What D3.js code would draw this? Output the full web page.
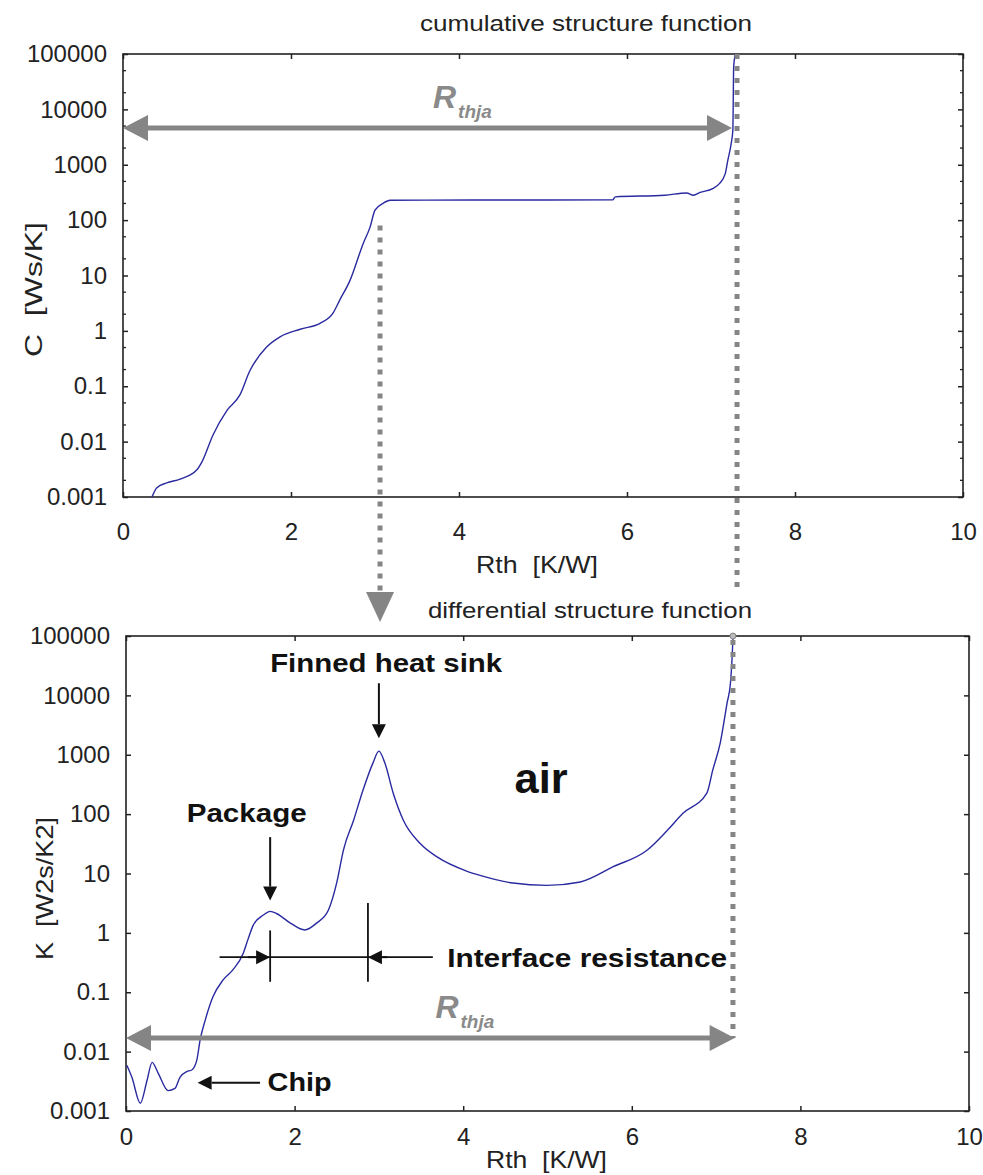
<!DOCTYPE html>
<html>
<head>
<meta charset="utf-8">
<script src="https://cdn.jsdelivr.net/npm/d3@7"></script>
<style>
body { margin: 0; background: #fff; }
text { font-family: "Liberation Sans", Arial, sans-serif; fill: #222; }
</style>
</head>
<body>
<svg id="chart" width="983" height="1175"></svg>
<script>
// ticks
var xTicks = [0, 2, 4, 6, 8, 10];
var yTicks = [0.001, 0.01, 0.1, 1, 10, 100, 1000, 10000, 100000];
var yTickLabels = ["0.001", "0.01", "0.1", "1", "10", "100", "1000", "10000", "100000"];
var yMinorTicks = [0.002, 0.005, 0.02, 0.05, 0.2, 0.5, 2, 5, 20, 50, 200, 500, 2000, 5000, 20000, 50000];

// cumulative structure function: Rth [K/W] vs C [Ws/K]
var cumR = [0.345, 0.40, 0.52, 0.68, 0.88, 0.94, 1.07, 1.24, 1.39, 1.51, 1.71, 1.87, 2.11, 2.35, 2.50, 2.58, 2.70, 2.86, 2.94, 3.00, 3.10, 3.18, 3.60, 4.50, 5.83, 5.86, 6.45, 6.71, 6.79, 6.87, 7.02, 7.10, 7.17, 7.20, 7.24, 7.26, 7.27, 7.29];
var cumC = [0.001, 0.00146, 0.0018, 0.0021, 0.0031, 0.0043, 0.013, 0.037, 0.069, 0.19, 0.51, 0.78, 1.07, 1.38, 2.1, 3.6, 8.0, 38, 74, 151, 203, 228, 230, 231, 232, 263, 282, 309, 282, 316, 372, 457, 690, 1200, 2400, 4170, 59000, 100000];

// differential structure function: Rth [K/W] vs K [W2s/K2]
var difR = [0.01, 0.07, 0.17, 0.25, 0.31, 0.38, 0.50, 0.58, 0.64, 0.72, 0.78, 0.84, 0.88, 0.94, 1.03, 1.15, 1.27, 1.39, 1.45, 1.51, 1.63, 1.71, 1.79, 1.95, 2.12, 2.26, 2.40, 2.50, 2.58, 2.70, 2.81, 2.93, 3.00, 3.07, 3.17, 3.29, 3.49, 3.69, 4.04, 4.20, 4.59, 4.99, 5.39, 5.78, 6.18, 6.42, 6.61, 6.89, 6.96, 7.05, 7.13, 7.17, 7.19, 7.20];
var difK = [0.0059, 0.0037, 0.00135, 0.0033, 0.0066, 0.0044, 0.0022, 0.0024, 0.0037, 0.0046, 0.0049, 0.0072, 0.016, 0.034, 0.083, 0.16, 0.24, 0.45, 0.8, 1.35, 2.0, 2.3, 2.1, 1.46, 1.12, 1.46, 2.4, 7, 25, 79, 250, 730, 1150, 730, 225, 79, 32, 19, 11, 9.3, 6.9, 6.3, 7.2, 13, 24.6, 53, 104, 225, 550, 1600, 7400, 16000, 44000, 91000];

var svg = d3.select("#chart");
var gray = "#858585";
var blue = "#2a2aa0";

var boxTop = {left: 123, right: 963, top: 54, bottom: 497};
var boxBot = {left: 126, right: 969, top: 636, bottom: 1111};

function panel(box, xGap, minor) {
  var x = d3.scaleLinear().domain([0, 10]).range([box.left, box.right]);
  var y = d3.scaleLog().domain([0.001, 100000]).range([box.bottom, box.top]);
  var g = svg.append("g");

  function style(a) {
    a.attr("font-size", 24).attr("font-family", "Liberation Sans, Arial, sans-serif").style("color", "#222");
    a.select(".domain").remove();
    a.selectAll(".tick line").attr("stroke-width", 1.5);
  }

  g.append("g").attr("transform", "translate(0," + box.bottom + ")")
    .call(d3.axisBottom(x).tickValues(xTicks).tickSize(-5).tickPadding(xGap).tickFormat(d3.format("d")))
    .call(style);
  g.append("g").attr("transform", "translate(0," + box.top + ")")
    .call(d3.axisTop(x).tickValues(xTicks).tickSize(-5).tickFormat(""))
    .call(style);
  g.append("g").attr("transform", "translate(" + box.left + ",0)")
    .call(d3.axisLeft(y).tickValues(yTicks).tickSize(-5).tickPadding(16).tickFormat(function(d, i) { return yTickLabels[i]; }))
    .call(style);
  g.append("g").attr("transform", "translate(" + box.right + ",0)")
    .call(d3.axisRight(y).tickValues(yTicks).tickSize(-5).tickFormat(""))
    .call(style);

  if (minor) {
    [box.left, box.right].forEach(function(px) {
      var dir = px === box.left ? 1 : -1;
      g.selectAll(null).data(yMinorTicks).enter().append("line")
        .attr("x1", px).attr("x2", px + dir * 3)
        .attr("y1", function(d) { return y(d); }).attr("y2", function(d) { return y(d); })
        .attr("stroke", "#222").attr("stroke-width", 1.3);
    });
  }

  g.append("rect")
    .attr("x", box.left).attr("y", box.top)
    .attr("width", box.right - box.left).attr("height", box.bottom - box.top)
    .attr("fill", "none").attr("stroke", "#222").attr("stroke-width", 1.6);

  return {x: x, y: y, g: g};
}

var pT = panel(boxTop, 26, true);
var pB = panel(boxBot, 17, false);

function curve(p, xs, ys) {
  var pts = xs.map(function(d, i) { return [d, ys[i]]; });
  var line = d3.line()
    .x(function(d) { return p.x(d[0]); })
    .y(function(d) { return p.y(d[1]); })
    .curve(d3.curveMonotoneX);
  p.g.append("path").datum(pts)
    .attr("d", line)
    .attr("fill", "none")
    .attr("stroke", blue)
    .attr("stroke-width", 1.4);
}

// titles and axis labels
function label(txt, x, y, len, opts) {
  var t = svg.append("text").attr("x", x).attr("y", y).text(txt)
    .style("white-space", "pre")
    .attr("font-size", opts && opts.size || 24);
  if (len) t.attr("textLength", len).attr("lengthAdjust", "spacingAndGlyphs");
  if (opts && opts.anchor) t.attr("text-anchor", opts.anchor);
  if (opts && opts.rotate) t.attr("transform", "rotate(-90," + x + "," + y + ")");
  if (opts && opts.bold) t.attr("font-weight", "bold").style("fill", "#111");
  return t;
}

label("cumulative structure function", 420, 31, 332, {size: 22});
label("differential structure function", 428, 618, 324, {size: 22});
label("Rth  [K/W]", 476, 573, 122, {size: 24});
label("Rth  [K/W]", 486, 1168, 121, {size: 24});
label("C  [Ws/K]", 42, 357, 135, {size: 24, rotate: true});
label("K  [W2s/K2]", 53, 960, 143, {size: 24, rotate: true});

// dotted guide lines (drawn under the curves)
function dotted(x1, y1, x2, y2) {
  svg.append("line")
    .attr("x1", x1).attr("y1", y1).attr("x2", x2).attr("y2", y2)
    .attr("stroke", gray).attr("stroke-width", 5)
    .attr("stroke-dasharray", "5 7");
}

dotted(pT.x(3.06), pT.y(80), pT.x(3.06), boxBot.top - 42);
svg.append("path")
  .attr("d", d3.line()([[pT.x(3.06) - 14, boxBot.top - 44], [pT.x(3.06) + 14, boxBot.top - 44], [pT.x(3.06), boxBot.top - 14]]) + "Z")
  .attr("fill", gray);
dotted(pT.x(7.31), pT.y(100000), pT.x(7.31), boxTop.bottom + 93);
dotted(pB.x(7.2), pB.y(100000) + 4, pB.x(7.2), pB.y(0.017));
svg.append("circle").attr("cx", pB.x(7.2)).attr("cy", pB.y(100000)).attr("r", 3)
  .attr("fill", "#bbb").attr("stroke", gray).attr("stroke-width", 1);

curve(pT, cumR, cumC);
curve(pB, difR, difK);

// gray double-headed Rthja arrows
function grayArrow(p, xa, xb, yv, rx, ry) {
  var x1 = p.x(xa), x2 = p.x(xb), y = p.y(yv);
  var hl = 25, hw = 13;
  svg.append("line").attr("x1", x1 + hl - 2).attr("x2", x2 - hl + 2).attr("y1", y).attr("y2", y)
    .attr("stroke", gray).attr("stroke-width", 5);
  svg.append("path").attr("d", "M" + x1 + "," + y + "L" + (x1 + hl) + "," + (y - hw) + "L" + (x1 + hl) + "," + (y + hw) + "Z").attr("fill", gray);
  svg.append("path").attr("d", "M" + x2 + "," + y + "L" + (x2 - hl) + "," + (y - hw) + "L" + (x2 - hl) + "," + (y + hw) + "Z").attr("fill", gray);
  var t = svg.append("text").attr("x", p.x(rx)).attr("y", p.y(ry))
    .attr("font-weight", "bold").attr("font-style", "italic").style("fill", "#8a8a8a");
  t.append("tspan").attr("font-size", 32).text("R");
  t.append("tspan").attr("font-size", 19).attr("dy", 10).attr("dx", 2).text("thja");
}

grayArrow(pT, 0, 7.25, 4600, 3.69, 10500);
grayArrow(pB, 0, 7.22, 0.017, 3.67, 0.037);

// black annotation arrows
function blackArrow(x1, y1, x2, y2) {
  var ang = Math.atan2(y2 - y1, x2 - x1), hl = 14, hw = 7;
  var bx = x2 - hl * Math.cos(ang), by = y2 - hl * Math.sin(ang);
  svg.append("line").attr("x1", x1).attr("y1", y1).attr("x2", bx).attr("y2", by)
    .attr("stroke", "#111").attr("stroke-width", 2);
  svg.append("path").attr("d",
    "M" + x2 + "," + y2 +
    "L" + (bx + hw * Math.sin(ang)) + "," + (by - hw * Math.cos(ang)) +
    "L" + (bx - hw * Math.sin(ang)) + "," + (by + hw * Math.cos(ang)) + "Z")
    .attr("fill", "#111");
}

var x = pB.x, y = pB.y;
blackArrow(x(3.0), y(16000), x(3.0), y(1900));
blackArrow(x(1.71), y(41), x(1.71), y(3.5));
blackArrow(x(1.59), y(0.003), x(0.85), y(0.003));
// interface resistance markers
[[1.71, 1.1, 0.15], [2.87, 3.2, 0.15]].forEach(function(v) {
  svg.append("line").attr("x1", x(v[0])).attr("x2", x(v[0])).attr("y1", y(v[1])).attr("y2", y(v[2]))
    .attr("stroke", "#111").attr("stroke-width", 1.8);
});
svg.append("line").attr("x1", x(1.11)).attr("x2", x(3.64)).attr("y1", y(0.39)).attr("y2", y(0.39))
  .attr("stroke", "#111").attr("stroke-width", 1.8);
blackArrow(x(1.45), y(0.39), x(1.71), y(0.39));
blackArrow(x(3.1), y(0.39), x(2.87), y(0.39));

label("Finned heat sink", x(1.71), y(24500), 232, {size: 26, bold: true});
label("Package", x(0.72), y(73), 120, {size: 26, bold: true});
label("Interface resistance", x(3.81), y(0.265), 280, {size: 26, bold: true});
label("Chip", x(1.68), y(0.0022), 64, {size: 26, bold: true});
label("air", x(4.61), y(224), 53, {size: 42, bold: true});
</script>
</body>
</html>
